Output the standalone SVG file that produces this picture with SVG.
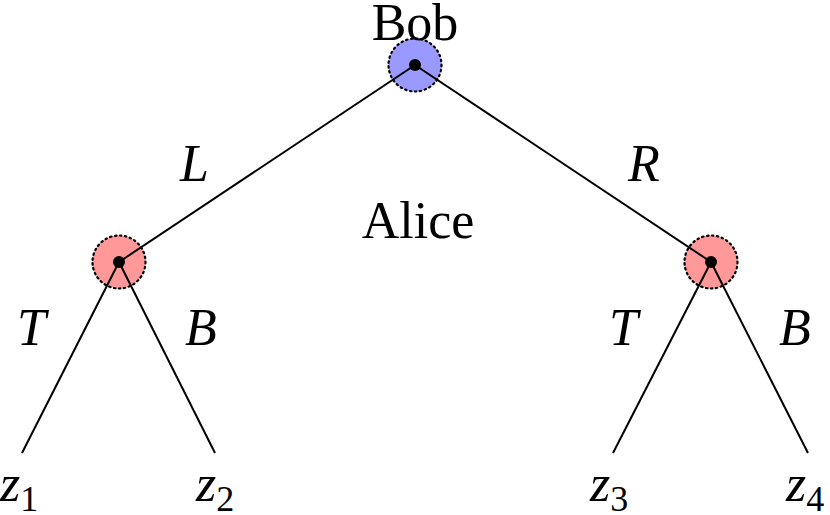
<svg xmlns="http://www.w3.org/2000/svg" width="830" height="515" viewBox="0 0 830 515">
<style>
.e{stroke:#000;stroke-width:2;fill:none}
.n{stroke:#000;stroke-width:2.2;stroke-dasharray:1.5 3.5;stroke-linecap:round}
.t{font-family:"Liberation Serif",serif;font-size:52px;fill:#000}
.i{font-style:italic}
.s{font-family:"Liberation Serif",serif;font-size:36px}
</style>
<rect width="830" height="515" fill="#fff"/>
<g id="node-bob"><circle class="n" cx="415" cy="65" r="26.5" fill="#9999ff"/></g>
<g id="node-a1"><circle class="n" cx="119" cy="262" r="26.5" fill="#ff9999"/></g>
<g id="node-a2"><circle class="n" cx="711" cy="262" r="26.5" fill="#ff9999"/></g>
<g id="connectors">
<line class="e" x1="415" y1="65" x2="119" y2="262"/>
<line class="e" x1="415" y1="65" x2="711" y2="262"/>
<line class="e" x1="119" y1="262" x2="22" y2="453"/>
<line class="e" x1="119" y1="262" x2="215" y2="453"/>
<line class="e" x1="711" y1="262" x2="613" y2="453"/>
<line class="e" x1="711" y1="262" x2="808" y2="453"/>
</g>
<g id="dots">
<circle cx="415" cy="65" r="6"/>
<circle cx="119" cy="262" r="6"/>
<circle cx="711" cy="262" r="6"/>
</g>
<g id="labels">
<text class="t" x="415" y="40" text-anchor="middle">Bob</text>
<text class="t" x="418" y="238" text-anchor="middle">Alice</text>
<text class="t i" x="180" y="181">L</text>
<text class="t i" x="628" y="181">R</text>
<text class="t i" x="17" y="345">T</text>
<text class="t i" x="185" y="345">B</text>
<text class="t i" x="609" y="345">T</text>
<text class="t i" x="779" y="345">B</text>
<text class="t i" x="0" y="501">z<tspan class="s" font-style="normal" dy="10">1</tspan></text>
<text class="t i" x="196" y="501">z<tspan class="s" font-style="normal" dy="10">2</tspan></text>
<text class="t i" x="590" y="501">z<tspan class="s" font-style="normal" dy="10">3</tspan></text>
<text class="t i" x="786" y="501">z<tspan class="s" font-style="normal" dy="10">4</tspan></text>
</g>
</svg>
